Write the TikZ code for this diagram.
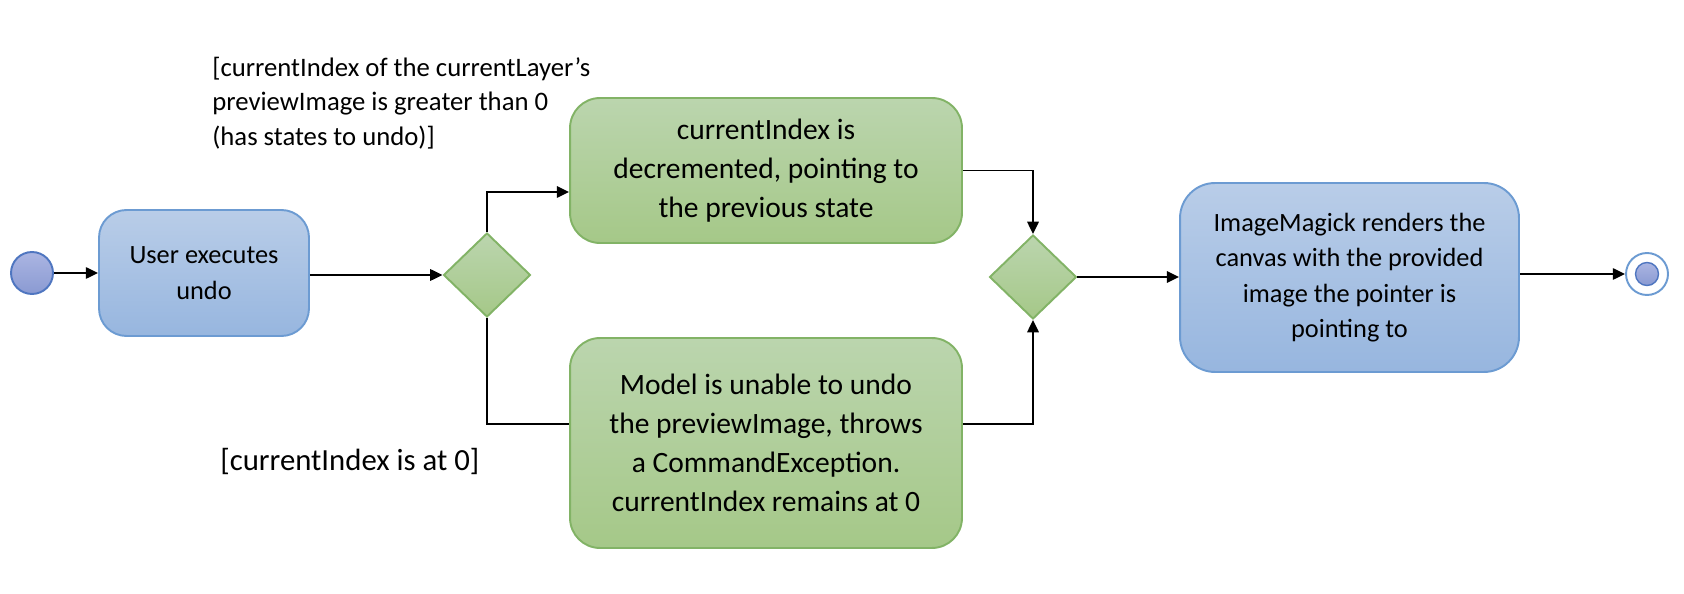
\documentclass[tikz,border=0pt]{standalone}
\usepackage{fontspec}
\setmainfont{Carlito}
\usetikzlibrary{shapes.geometric,arrows.meta}
\definecolor{bluetop}{HTML}{B9CDE8}
\definecolor{bluebot}{HTML}{97B6DF}
\definecolor{blueline}{HTML}{6C9BD2}
\definecolor{greentop}{HTML}{BBD5AE}
\definecolor{greenbot}{HTML}{A5C888}
\definecolor{greenline}{HTML}{82B366}
\definecolor{dottop}{HTML}{ABB5E2}
\definecolor{dotbot}{HTML}{8A9AD2}
\definecolor{dotline}{HTML}{4F76C0}
\begin{document}
\begin{tikzpicture}[x=0.02cm,y=-0.02cm,
  bluebox/.style={draw=blueline,line width=1.1pt,top color=bluetop,bottom color=bluebot,
    rounded corners=0.55cm,align=center,inner sep=0pt,font=\fontsize{15}{20.2}\selectfont},
  greenbox/.style={draw=greenline,line width=1.1pt,top color=greentop,bottom color=greenbot,
    rounded corners=0.6cm,align=center,inner sep=0pt,minimum width=7.84cm,
    font=\fontsize{16.8}{22.2}\selectfont},
  choice/.style={diamond,draw=greenline,line width=1.1pt,top color=greentop,bottom color=greenbot,
    inner sep=0pt,minimum width=1.74cm,minimum height=1.68cm},
  flow/.style={line width=1.1pt,-{Triangle[length=7pt,width=6.5pt]}},
  guard/.style={anchor=west,align=left,inner sep=0pt}]
\useasboundingbox (0,0) rectangle (1684,594);

% start and user action
\node[circle,draw=dotline,line width=1.1pt,top color=dottop,bottom color=dotbot,
  minimum size=0.84cm,inner sep=0pt] (start) at (32,273) {};
\node[bluebox,minimum width=4.2cm,minimum height=2.52cm] (user) at (204,273) {User executes\\undo};

% first decision
\node[choice] (dec1) at (487,275) {};
\node[greenbox,minimum height=2.9cm] (prev) at (766,170.5)
  {currentIndex is\\decremented, pointing to\\the previous state};
\node[greenbox,minimum height=4.2cm] (fail) at (766,443)
  {Model is unable to undo\\the previewImage, throws\\a CommandException.\\currentIndex remains at 0};

% guards
\node[guard,font=\fontsize{15.2}{19.8}\selectfont] (gyes) at (212,103)
  {[currentIndex of the currentLayer's\\previewImage is greater than 0\\(has states to undo)]};
\node[guard,font=\fontsize{17.5}{20}\selectfont] (gno) at (220,461) {[currentIndex is at 0]};

% merge and render
\node[choice] (dec2) at (1033,277) {};
\node[bluebox,minimum width=6.78cm,minimum height=3.78cm,rounded corners=0.7cm] (render) at (1349.5,277.5)
  {ImageMagick renders the\\canvas with the provided\\image the pointer is\\pointing to};

% end
\node[circle,draw=blueline,line width=1.1pt,fill=white,minimum size=0.84cm,inner sep=0pt] (fin) at (1647,274) {};
\node[circle,draw=dotline,line width=0.8pt,top color=dottop,bottom color=dotbot,
  minimum size=0.46cm,inner sep=0pt] (findot) at (fin) {};

\draw[flow] (start) -- (user.west |- start);
\draw[flow] (user.east |- dec1) -- (dec1);
\draw[flow] (dec1.north) |- ([yshift=-0.43cm]prev.west);
\draw[line width=1.1pt] (dec1.south) |- ([yshift=0.38cm]fail.west);
\draw[flow] (prev.east) -| (dec2.north);
\draw[flow] ([yshift=0.38cm]fail.east) -| (dec2.south);
\draw[flow] (dec2.east) -- (render.west |- dec2);
\draw[flow] (render.east |- fin) -- (fin);
\end{tikzpicture}
\end{document}
